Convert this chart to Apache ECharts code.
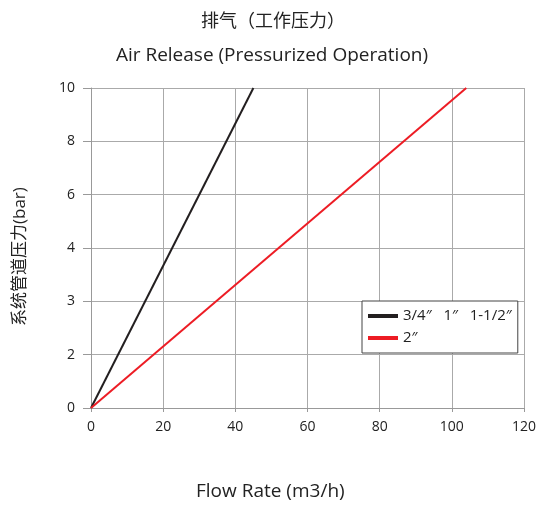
<!DOCTYPE html>
<html>
<head>
<meta charset="utf-8">
<script src="https://cdn.jsdelivr.net/npm/echarts@6/dist/echarts.min.js"></script>
<style>html,body{margin:0;padding:0;background:#fff;}#chart{width:539px;height:506px;}</style>
</head>
<body>
<div id="chart"></div>
<script>
const xTicks = { min: 0, max: 120, interval: 20 };
const yCategories = ['0', '2', '3', '4', '6', '8', '10'];
const seriesNames = ['3/4″   1″   1-1/2″', '2″'];
const blackLine = [[0, '0'], [45, '10']];
const redLine = [[0, '0'], [104, '10']];

const FONT = '"Open Sans", "Noto Sans CJK SC", sans-serif';
const chart = echarts.init(document.getElementById('chart'), null, { renderer: 'canvas' });
chart.setOption({
  animation: false,
  backgroundColor: '#fff',
  textStyle: { fontFamily: FONT },
  title: [
    { text: '排气（工作压力）', top: 8, left: 268, textAlign: 'center', textStyle: { fontSize: 18, fontWeight: 'normal', color: '#222', fontFamily: FONT } },
    { text: 'Air Release (Pressurized Operation)', top: 41, left: 267, textAlign: 'center', textStyle: { fontSize: 19, fontWeight: 'normal', color: '#222', fontFamily: FONT } }
  ],
  grid: { left: 91, right: 12, top: 88, bottom: 98, containLabel: false },
  xAxis: {
    type: 'value', min: xTicks.min, max: xTicks.max, interval: xTicks.interval,
    axisLine: { show: true, lineStyle: { color: '#999', width: 1 } },
    axisTick: { show: true, length: 4, lineStyle: { color: '#999' } },
    axisLabel: { color: '#222', fontSize: 14, margin: 12, fontFamily: FONT },
    splitLine: { show: true, lineStyle: { color: '#aaa', width: 1 } }
  },
  yAxis: {
    type: 'category', data: yCategories, boundaryGap: false,
    axisLine: { show: true, lineStyle: { color: '#999', width: 1 } },
    axisTick: { show: true, length: 8, lineStyle: { color: '#999' } },
    axisLabel: { color: '#222', fontSize: 14, margin: 16, fontFamily: FONT },
    splitLine: { show: true, lineStyle: { color: '#aaa', width: 1 } }
  },
  legend: {
    orient: 'vertical', left: 362, top: 301,
    padding: [7, 6, 7, 6], itemGap: 6,
    itemWidth: 30, itemHeight: 4, icon: 'rect',
    borderColor: '#444', borderWidth: 1, backgroundColor: '#fff',
    textStyle: { fontSize: 15, lineHeight: 16, color: '#222', fontFamily: FONT },
    data: seriesNames
  },
  graphic: [
    { type: 'text', left: 196, top: 482, style: { text: 'Flow Rate (m3/h)', font: '19px ' + FONT, fill: '#222' } },
    { type: 'text', rotation: Math.PI / 2, x: 12, y: 326, style: { text: '系统管道压力(bar)', font: '17px ' + FONT, fill: '#222' } }
  ],
  series: [
    { name: seriesNames[0], type: 'line', data: blackLine, showSymbol: false, lineStyle: { color: '#231f20', width: 2 }, itemStyle: { color: '#231f20' } },
    { name: seriesNames[1], type: 'line', data: redLine, showSymbol: false, lineStyle: { color: '#ed1c24', width: 2 }, itemStyle: { color: '#ed1c24' } }
  ]
});
</script>
</body>
</html>
